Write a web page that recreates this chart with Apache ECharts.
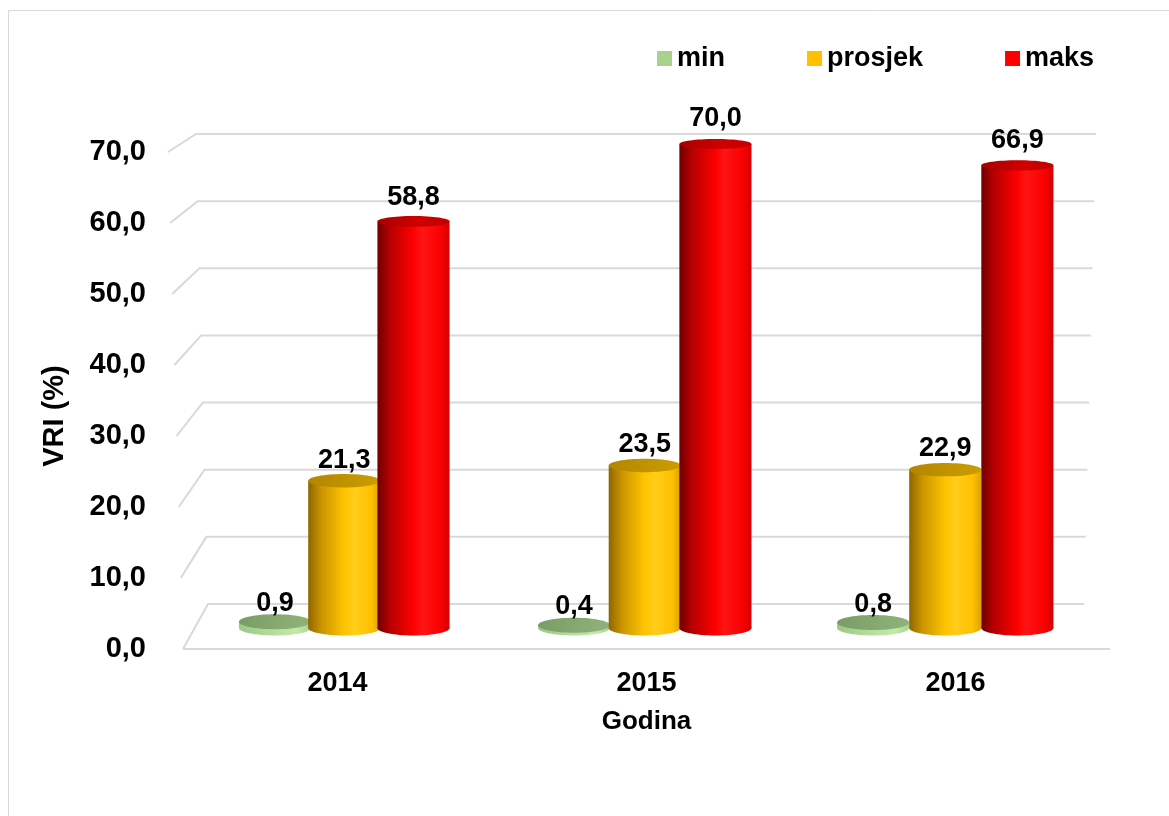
<!DOCTYPE html>
<html>
<head>
<meta charset="utf-8">
<title>VRI (%)</title>
<script src="https://cdn.jsdelivr.net/npm/echarts@6/dist/echarts.min.js"></script>
<style>
    html, body { margin: 0; padding: 0; background: #fff; }
    #chartDiv { width: 1169px; height: 816px; }
</style>
</head>
<body>
<div id="chartDiv"></div>
<script>
    var godine = ['2014', '2015', '2016'];
    var minVrijednosti = [0.9, 0.4, 0.8];
    var prosjekVrijednosti = [21.3, 23.5, 22.9];
    var maksVrijednosti = [58.8, 70.0, 66.9];
    var yTickovi = [0, 10, 20, 30, 40, 50, 60, 70];

    var FONT = "'Liberation Sans', Arial, sans-serif";

    function zarez(v) {
        return v.toFixed(1).replace('.', ',');
    }

    // zidovi i pod (3D mreza) - crta se iz prednje osi
    function renderZid(params, api) {
        var cs = params.coordSys;
        var v = api.value(1);
        var f = api.coord([0, v]);
        var t = (cs.y + cs.height - f[1]) / cs.height;
        var fx = cs.x - 15 * t, fy = f[1];
        var bx = fx + 25 + 3 * t, by = fy - 45 + 27 * t;
        var rx = cs.x + cs.width - 26 + 12 * t;
        var stil = {stroke: '#d9d9d9', lineWidth: 2, fill: null};
        var djeca = [{type: 'polyline', shape: {points: [[fx, fy], [bx, by], [rx, by]]}, style: stil}];
        if (v === 0) {
            djeca.push({type: 'line', shape: {x1: fx, y1: fy, x2: cs.x + cs.width, y2: fy}, style: stil});
        }
        return {type: 'group', children: djeca};
    }

    // valjak (cilindar) za jedan stupac
    function valjak(pomak, boje) {
        return function (params, api) {
            var cs = params.coordSys;
            var i = api.value(0), v = api.value(1);
            var baza = api.coord([i, 0]);
            var vrh = api.coord([i, v]);
            var band = api.size([1, 0])[0];
            var w = band * 0.24;
            var cx = baza[0] + pomak * w * (0.96 + 0.02 * i);
            var r = w / 2;
            var ryB = 5 + (baza[1] - cs.y) * 0.0052;
            var ryT = 5 + (vrh[1] - cs.y) * 0.0052;
            var razmak = 12 - (vrh[1] - cs.y) * 0.02;
            var tijelo = new echarts.graphic.LinearGradient(0, 0, 1, 0, boje.tijelo);
            return {
                type: 'group',
                children: [
                    {type: 'ellipse', shape: {cx: cx, cy: baza[1], rx: r, ry: ryB}, style: {fill: tijelo}},
                    {type: 'rect', shape: {x: cx - r, y: vrh[1], width: w, height: baza[1] - vrh[1]}, style: {fill: tijelo}},
                    {type: 'ellipse', shape: {cx: cx, cy: vrh[1], rx: r, ry: ryT},
                        style: {fill: new echarts.graphic.LinearGradient(0, 0, 1, 0, boje.vrh)}},
                    {type: 'text', x: cx, y: vrh[1] - ryT - razmak + 5,
                        style: {text: zarez(v), fill: '#000', font: 'bold 27px ' + FONT, align: 'center', verticalAlign: 'bottom'}}
                ]
            };
        };
    }

    var zelena = {
        tijelo: [{offset: 0, color: '#9cc888'}, {offset: 0.5, color: '#b6df9e'}, {offset: 0.8, color: '#c2e8aa'}, {offset: 1, color: '#a8d490'}],
        vrh: [{offset: 0, color: '#7a9c66'}, {offset: 1, color: '#90b37c'}]
    };
    var zuta = {
        tijelo: [{offset: 0, color: '#8f6600'}, {offset: 0.18, color: '#c99400'}, {offset: 0.5, color: '#ffc400'},
            {offset: 0.65, color: '#ffcd1a'}, {offset: 0.88, color: '#ffc000'}, {offset: 1, color: '#dba300'}],
        vrh: [{offset: 0, color: '#b38600'}, {offset: 1, color: '#cc9e00'}]
    };
    var crvena = {
        tijelo: [{offset: 0, color: '#700000'}, {offset: 0.18, color: '#b80000'}, {offset: 0.5, color: '#ff0000'},
            {offset: 0.62, color: '#ff1414'}, {offset: 0.88, color: '#fa0000'}, {offset: 1, color: '#d40000'}],
        vrh: [{offset: 0, color: '#a80000'}, {offset: 0.6, color: '#d00000'}, {offset: 1, color: '#c00000'}]
    };

    var tekst = {fontFamily: FONT, fontWeight: 'bold', color: '#000'};

    var chart = echarts.init(document.getElementById('chartDiv'));
    chart.setOption({
        animation: false,
        backgroundColor: '#fff',
        legend: {
            left: 652, top: 40, itemWidth: 15, itemHeight: 15, itemGap: 82, icon: 'rect',
            selectedMode: false,
            textStyle: Object.assign({fontSize: 27}, tekst),
            data: [
                {name: 'min', itemStyle: {color: '#a9d18e'}},
                {name: 'prosjek', itemStyle: {color: '#ffc000'}},
                {name: 'maks', itemStyle: {color: '#ff0000'}}
            ]
        },
        graphic: [
            {type: 'rect', silent: true, z: -1, shape: {x: 8.5, y: 10.5, width: 1200, height: 900},
                style: {fill: 'none', stroke: '#d9d9d9', lineWidth: 1}},
            {type: 'text', x: 55, y: 416, rotation: Math.PI / 2,
                style: {text: 'VRI (%)', font: 'bold 29px ' + FONT, fill: '#000', align: 'center', verticalAlign: 'middle'}}
        ],
        grid: [
            {left: 183, right: 59, top: 152, bottom: 167},
            {left: 194, width: 901.5, top: 144, height: 484}
        ],
        xAxis: [
            {
                gridIndex: 0, type: 'category', data: godine,
                axisLine: {show: false}, axisTick: {show: false}, splitLine: {show: false},
                axisLabel: Object.assign({margin: 21, fontSize: 27}, tekst),
                name: 'Godina', nameLocation: 'middle', nameGap: 60,
                nameTextStyle: Object.assign({fontSize: 26}, tekst)
            },
            {gridIndex: 1, type: 'category', data: godine, show: false}
        ],
        yAxis: [
            {
                gridIndex: 0, type: 'value', min: 0, max: 70, interval: 10,
                axisLine: {show: false}, axisTick: {show: false}, splitLine: {show: false},
                axisLabel: Object.assign({margin: 37, fontSize: 29, formatter: zarez}, tekst)
            },
            {gridIndex: 1, type: 'value', min: 0, max: 70, show: false}
        ],
        series: [
            {
                name: 'mreza', type: 'custom', xAxisIndex: 0, yAxisIndex: 0, z: 1, silent: true,
                renderItem: renderZid,
                data: yTickovi.map(function (v) { return [0, v]; })
            },
            {
                name: 'min', type: 'custom', xAxisIndex: 1, yAxisIndex: 1, z: 3,
                itemStyle: {color: '#a9d18e'}, renderItem: valjak(-1, zelena),
                data: minVrijednosti.map(function (v, i) { return [i, v]; })
            },
            {
                name: 'prosjek', type: 'custom', xAxisIndex: 1, yAxisIndex: 1, z: 3,
                itemStyle: {color: '#ffc000'}, renderItem: valjak(0, zuta),
                data: prosjekVrijednosti.map(function (v, i) { return [i, v]; })
            },
            {
                name: 'maks', type: 'custom', xAxisIndex: 1, yAxisIndex: 1, z: 3,
                itemStyle: {color: '#ff0000'}, renderItem: valjak(1, crvena),
                data: maksVrijednosti.map(function (v, i) { return [i, v]; })
            }
        ]
    });
</script>
</body>
</html>
